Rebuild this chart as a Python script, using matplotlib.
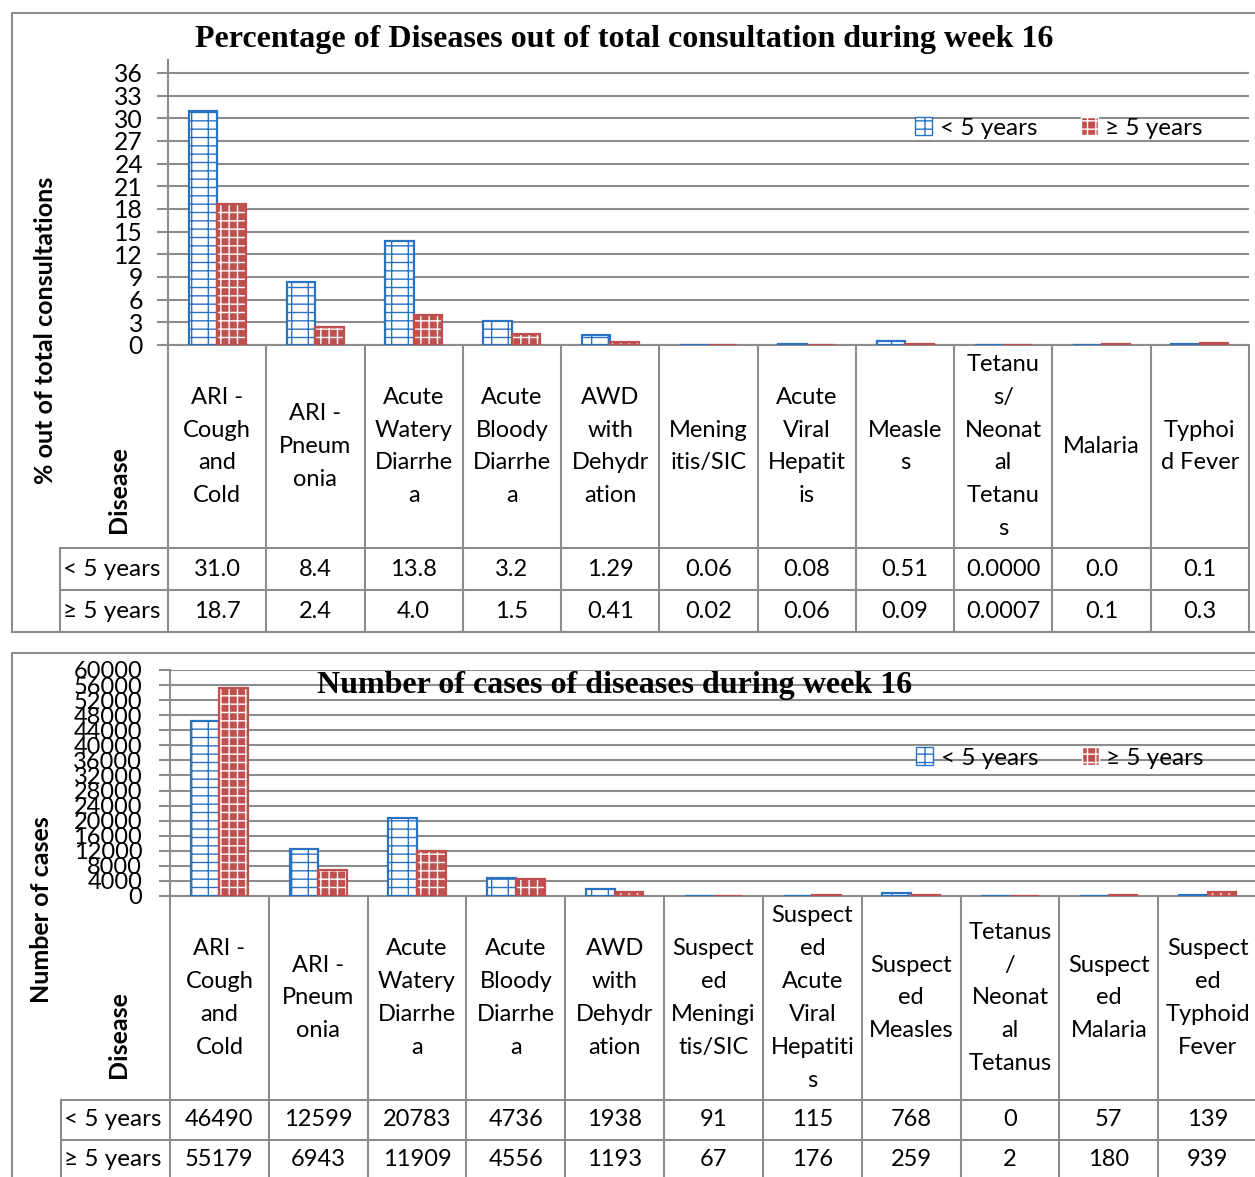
import matplotlib
matplotlib.use("Agg")
import matplotlib.pyplot as plt
import numpy as np
from matplotlib.patches import Patch

# ---------------- data ----------------
cats_pct = ["ARI -\nCough\nand\nCold", "ARI -\nPneum\nonia", "Acute\nWatery\nDiarrhe\na",
            "Acute\nBloody\nDiarrhe\na", "AWD\nwith\nDehydr\nation", "Mening\nitis/SIC",
            "Acute\nViral\nHepatit\nis", "Measle\ns", "Tetanu\ns/\nNeonat\nal\nTetanu\ns",
            "Malaria", "Typhoi\nd Fever"]
pct_u5 = [31.0, 8.4, 13.8, 3.2, 1.29, 0.06, 0.08, 0.51, 0.0000, 0.0, 0.1]
pct_o5 = [18.7, 2.4, 4.0, 1.5, 0.41, 0.02, 0.06, 0.09, 0.0007, 0.1, 0.3]
pct_decimals = [1, 1, 1, 1, 2, 2, 2, 2, 4, 1, 1]
pct_yticks = list(range(0, 37, 3))

cats_cases = ["ARI -\nCough\nand\nCold", "ARI -\nPneum\nonia", "Acute\nWatery\nDiarrhe\na",
              "Acute\nBloody\nDiarrhe\na", "AWD\nwith\nDehydr\nation", "Suspect\ned\nMeningi\ntis/SIC",
              "Suspect\ned\nAcute\nViral\nHepatiti\ns", "Suspect\ned\nMeasles",
              "Tetanus\n/\nNeonat\nal\nTetanus", "Suspect\ned\nMalaria", "Suspect\ned\nTyphoid\nFever"]
cases_u5 = [46490, 12599, 20783, 4736, 1938, 91, 115, 768, 0, 57, 139]
cases_o5 = [55179, 6943, 11909, 4556, 1193, 67, 176, 259, 2, 180, 939]
cases_yticks = list(range(0, 60001, 4000))

series_names = ["< 5 years", "\u2265 5 years"]
title_pct = "Percentage of Diseases out of total consultation during week 16"
title_cases = "Number of cases of diseases during week 16"
ylabel_pct = "% out of total consultations"
ylabel_cases = "Number of cases"
row_header = "Disease"

# ---------------- style ----------------
plt.rcParams['font.family'] = ['Lato', 'DejaVu Sans']
plt.rcParams['hatch.linewidth'] = 1.0
W, H = 1255, 1177
BLUE = '#2A73C4'
RED = '#C0504D'
GRID = '#8C8C8C'
FS_CAT = 17
FS_ROW = 17.5

fig = plt.figure(figsize=(W / 100, H / 100), dpi=100)
ov = fig.add_axes([0, 0, 1, 1], zorder=0)
ov.set_xlim(0, W)
ov.set_ylim(H, 0)
ov.axis('off')


def rect(x0, y0, x1, y1):
    return [x0 / W, 1 - y1 / H, (x1 - x0) / W, (y1 - y0) / H]


def fit_text(t, target_w):
    r = fig.canvas.get_renderer()
    w = t.get_window_extent(r).width
    t.set_fontsize(t.get_fontsize() * target_w / w)


def panel(box_top, ax_top, y0, x0, x1, ymax, yticks, cats, u5, o5, labels_u5, labels_o5,
          rows_y, title, title_xy, title_w, leg_xy, ylabel, ylabel_xy, disease_xy, hdr_x,
          tick_fs, table_bottom, tick_pad):
    # outer border
    ov.plot([12, 12, 1300], [min(table_bottom, H + 5), box_top, box_top], color=GRID, lw=1.5)
    if table_bottom < H:
        ov.plot([12, 1300], [table_bottom, table_bottom], color=GRID, lw=1.5)
    ax = fig.add_axes(rect(x0, ax_top, x1, y0), zorder=2)
    ax.patch.set_alpha(0)
    n = len(cats)
    x = np.arange(n)
    bw = 0.29
    ax.bar(x - bw / 2, u5, bw, facecolor='white', edgecolor=BLUE, hatch='--|', linewidth=1.6, zorder=3)
    ax.bar(x + bw / 2, o5, bw, facecolor=RED, edgecolor='white', hatch='++', linewidth=0, zorder=3)
    ax.bar(x + bw / 2, o5, bw, facecolor='none', edgecolor=RED, linewidth=1.6, zorder=4)
    ax.set_xlim(-0.5, n - 0.5)
    ax.set_ylim(0, ymax)
    ax.set_yticks(yticks)
    ax.set_yticklabels([str(v) for v in yticks], fontsize=tick_fs)
    ax.tick_params(axis='y', length=8, width=1.5, color=GRID, pad=tick_pad, direction='out')
    ax.set_xticks([])
    ax.grid(axis='y', color=GRID, lw=1.5, zorder=0)
    for s in ['top', 'right', 'bottom']:
        ax.spines[s].set_visible(False)
    ax.spines['left'].set_color(GRID)
    ax.spines['left'].set_linewidth(1.5)
    ax.set_axisbelow(True)
    # zero line
    ov.plot([x0 - 8, x1], [y0, y0], color=GRID, lw=1.5, zorder=1)

    # legend
    handles = [Patch(facecolor='white', edgecolor=BLUE, hatch='--|', label=series_names[0]),
               Patch(facecolor=RED, edgecolor='white', hatch='++', label=series_names[1])]
    fig.legend(handles=handles, loc='center', bbox_to_anchor=(leg_xy[0] / W, 1 - leg_xy[1] / H),
               ncol=2, frameon=False, fontsize=FS_ROW, handlelength=0.7, handleheight=0.7,
               handletextpad=0.3, columnspacing=1.8)

    # title
    t = fig.text(title_xy[0] / W, 1 - title_xy[1] / H, title, ha='center', va='center',
                 family='Liberation Serif', weight='bold', fontsize=20, zorder=5)
    fit_text(t, title_w)

    # y label
    ov.text(ylabel_xy[0], ylabel_xy[1], ylabel, rotation=90, ha='center', va='center',
            fontsize=18, weight='bold')
    ov.text(disease_xy[0], disease_xy[1], row_header, rotation=90, ha='center', va='bottom',
            fontsize=18, weight='bold')

    # table
    colw = (x1 - x0) / n
    edges = [x0 + i * colw for i in range(n + 1)]
    for e in edges:
        ov.plot([e, e], [y0, table_bottom], color=GRID, lw=1.5, zorder=1)
    ov.plot([hdr_x, hdr_x], [rows_y[0], table_bottom], color=GRID, lw=1.5, zorder=1)
    for ry in rows_y:
        ov.plot([hdr_x, x1], [ry, ry], color=GRID, lw=1.5, zorder=1)
    ov.plot([hdr_x, x1], [table_bottom, table_bottom], color=GRID, lw=1.5, zorder=1)
    cat_cy = (y0 + rows_y[0]) / 2
    for i, c in enumerate(cats):
        cx = x0 + (i + 0.5) * colw
        ov.text(cx, cat_cy, c, ha='center', va='center', fontsize=FS_CAT, linespacing=1.70,
                multialignment='center')
    rh = rows_y[1] - rows_y[0]
    for r, (lab, vals) in enumerate(zip(series_names, [labels_u5, labels_o5])):
        cy = rows_y[r] + rh / 2
        ov.text(hdr_x + 3, cy, lab, ha='left', va='center', fontsize=FS_ROW)
        for i, v in enumerate(vals):
            cx = x0 + (i + 0.5) * colw
            ov.text(cx, cy, v, ha='center', va='center', fontsize=FS_CAT)


lab_pct_u5 = [f"{v:.{d}f}" for v, d in zip(pct_u5, pct_decimals)]
lab_pct_o5 = [f"{v:.{d}f}" for v, d in zip(pct_o5, pct_decimals)]
panel(box_top=13, ax_top=60, y0=345, x0=168, x1=1249, ymax=36 * 285 / 272, yticks=pct_yticks,
      cats=cats_pct, u5=pct_u5, o5=pct_o5, labels_u5=lab_pct_u5, labels_o5=lab_pct_o5,
      rows_y=[548, 590], title=title_pct, title_xy=(624, 40), title_w=856, leg_xy=(1059, 128),
      ylabel=ylabel_pct, ylabel_xy=(46, 330), disease_xy=(118, 533), hdr_x=60,
      tick_fs=17.8, table_bottom=632, tick_pad=10)

panel(box_top=653, ax_top=670, y0=896, x0=170, x1=1257, ymax=60000, yticks=cases_yticks,
      cats=cats_cases, u5=cases_u5, o5=cases_o5, labels_u5=[str(v) for v in cases_u5],
      labels_o5=[str(v) for v in cases_o5],
      rows_y=[1100, 1140], title=title_cases, title_xy=(615, 686), title_w=594, leg_xy=(1060, 758),
      ylabel=ylabel_cases, ylabel_xy=(42, 910), disease_xy=(118, 1078), hdr_x=61,
      tick_fs=17, table_bottom=1180, tick_pad=12)

fig.savefig("out.png", dpi=100)
